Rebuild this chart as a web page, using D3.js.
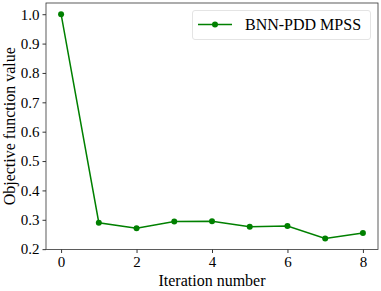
<!DOCTYPE html>
<html><head><meta charset="utf-8">
<script src="https://cdn.jsdelivr.net/npm/d3@7"></script>
<style>body{margin:0;background:#fff}svg{display:block}</style>
</head><body><svg id="c" width="381" height="291" style="font-family:'Liberation Serif',serif"></svg>
<script>
const iterations = [0,1,2,3,4,5,6,7,8];
const values = [1.0,0.290,0.271,0.294,0.295,0.276,0.279,0.236,0.255];
const xTicks = [0,2,4,6,8];
const yTicks = [0.2,0.3,0.4,0.5,0.6,0.7,0.8,0.9,1.0];
const seriesName = "BNN-PDD MPSS";
const FONT = "Liberation Serif";

const svg = d3.select("#c");
const L=46,R=378,T=3,B=249.5;
const x = d3.scaleLinear().domain([-0.4,8.4]).range([L,R]);
const y = d3.scaleLinear().domain([0.1988,1.0382]).range([B,T]);
const col = "#008000";

const gx = svg.append("g").attr("transform",`translate(0,${B})`)
  .call(d3.axisBottom(x).tickValues(xTicks).tickFormat(d3.format("d")).tickSize(3.5).tickPadding(3));
const gy = svg.append("g").attr("transform",`translate(${L},0)`)
  .call(d3.axisLeft(y).tickValues(yTicks).tickFormat(d3.format(".1f")).tickSize(3.5).tickPadding(3));
[gx,gy].forEach(g=>{g.attr("font-family",FONT).attr("font-size",15);
  g.select(".domain").remove();g.selectAll("line").attr("stroke","#000").attr("stroke-width",0.8);
  g.selectAll("text").attr("font-family",FONT).attr("font-size",15).attr("fill","#000");});
svg.append("rect").attr("x",L).attr("y",T).attr("width",R-L).attr("height",B-T).attr("fill","none").attr("stroke","#333").attr("stroke-width",0.8);

svg.append("path").datum(iterations.map((d,i)=>[d,values[i]]))
  .attr("d",d3.line().x(d=>x(d[0])).y(d=>y(d[1]))).attr("fill","none").attr("stroke",col).attr("stroke-width",1.5);
svg.selectAll("circle.p").data(values).join("circle").attr("class","p")
  .attr("cx",(d,i)=>x(iterations[i])).attr("cy",d=>y(d)).attr("r",3).attr("fill",col);

svg.append("text").attr("x",(L+R)/2).attr("y",285.5).attr("text-anchor","middle").attr("font-family",FONT).attr("font-size",16).text("Iteration number");
svg.append("text").attr("transform",`translate(14.5,${(T+B)/2}) rotate(-90)`).attr("text-anchor","middle").attr("font-family",FONT).attr("font-size",16).text("Objective function value");

const lg = svg.append("g");
lg.append("rect").attr("x",192.5).attr("y",10.5).attr("width",178).attr("height",29).attr("rx",2.5).attr("fill","#fff").attr("fill-opacity",0.8).attr("stroke","#ddd").attr("stroke-width",0.8);
lg.append("line").attr("x1",198).attr("x2",232).attr("y1",24.5).attr("y2",24.5).attr("stroke",col).attr("stroke-width",1.5);
lg.append("circle").attr("cx",215).attr("cy",24.5).attr("r",3).attr("fill",col);
lg.append("text").attr("x",245).attr("y",30).attr("font-family",FONT).attr("font-size",16).text(seriesName);
</script></body></html>
